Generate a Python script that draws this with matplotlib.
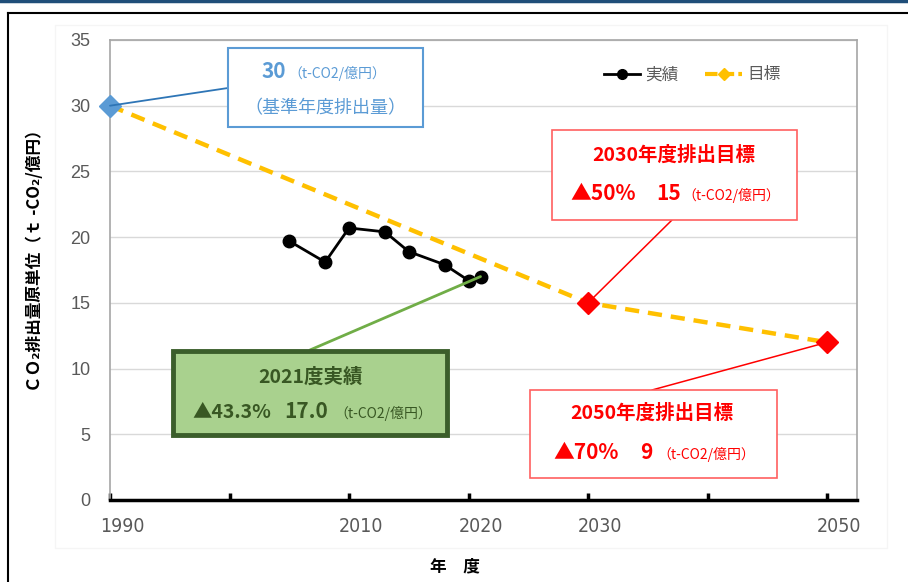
import matplotlib
matplotlib.use("Agg")
import matplotlib.pyplot as plt
from matplotlib.lines import Line2D
from matplotlib.patches import Rectangle
from matplotlib.transforms import ScaledTranslation

plt.rcParams['font.family'] = ['Noto Sans CJK JP', 'DejaVu Sans']

# ---- data ----
actual_years = [2005, 2008, 2010, 2013, 2015, 2018, 2020, 2021]
actual_values = [19.7, 18.1, 20.7, 20.4, 18.9, 17.9, 16.7, 17.0]
target_years = [1990, 2030, 2050]
target_values = [30, 15, 12]
x_ticks = [1990, 2000, 2010, 2020, 2030, 2040, 2050]
x_tick_labels = ['1990', '', '2010', '2020', '2030', '', '2050']
y_ticks = [0, 5, 10, 15, 20, 25, 30, 35]
legend_labels = ['実績', '目標']

W, H = 908, 582
DPI = 100
fig = plt.figure(figsize=(W / DPI, H / DPI), dpi=DPI, facecolor='white')


def fx(px):
    return px / W


def fy(py):
    return 1 - py / H


# outer frame decorations
fig.add_artist(Line2D([0, 1], [fy(1), fy(1)], color='#1F4E79', lw=2.5, transform=fig.transFigure))
fig.add_artist(Line2D([fx(8), 1], [fy(13), fy(13)], color='black', lw=1.5, transform=fig.transFigure))
fig.add_artist(Line2D([fx(8), fx(8)], [fy(13), 0], color='black', lw=1.5, transform=fig.transFigure))
fig.add_artist(Rectangle((fx(55), fy(548)), fx(887) - fx(55), fy(25) - fy(548), fill=False,
                         edgecolor='#F5F5F5', lw=1, transform=fig.transFigure))

ax = fig.add_axes([fx(110), fy(500), fx(857) - fx(110), fy(40) - fy(500)])
ax.set_xlim(1990, 2052.5)
ax.set_ylim(0, 35)

# grid
ax.set_yticks(y_ticks)
ax.yaxis.grid(True, color='#D9D9D9', lw=1)
ax.set_axisbelow(True)
for s in ['left', 'top', 'right']:
    ax.spines[s].set_color('#A6A6A6')
    ax.spines[s].set_linewidth(1.2)
ax.spines['bottom'].set_color('black')
ax.spines['bottom'].set_linewidth(2.5)

ax.tick_params(axis='y', length=0, pad=14, labelsize=13, labelcolor='#595959',
               labelfontfamily='Liberation Sans')
ax.set_xticks(x_ticks)
ax.set_xticklabels(x_tick_labels)
ax.tick_params(axis='x', direction='in', length=5, width=2.5, color='black', pad=12,
               labelsize=14, labelcolor='#595959')
for lab in ax.get_xticklabels():
    lab.set_fontfamily(['DejaVu Sans'])
    lab.set_fontstretch('condensed')
    lab.set_transform(lab.get_transform() + ScaledTranslation(12 / DPI, 0, fig.dpi_scale_trans))

# target line
ax.plot(target_years, target_values, color='#FFC000', lw=3.2, ls=(0, (3.2, 2)), zorder=3,
        solid_capstyle='butt', dash_capstyle='butt')
# actual line
ax.plot(actual_years, actual_values, color='black', lw=2, marker='o', ms=9, zorder=4)
# highlighted target points
ax.plot(target_years[0], target_values[0], marker='D', ms=11, color='#5B9BD5', zorder=5, clip_on=False)
ax.plot(target_years[1:], target_values[1:], marker='D', ms=11, color='#FF0000', ls='none', zorder=5,
        clip_on=False)

# legend
handles = [Line2D([], [], color='black', lw=2, marker='o', ms=7),
           Line2D([], [], color='#FFC000', lw=3, ls=(0, (3, 1)), marker='D', ms=6)]
fig.legend(handles, legend_labels, loc='center', bbox_to_anchor=(fx(692), fy(75)), ncol=2,
           frameon=False, fontsize=12, labelcolor='#595959', handlelength=2.2,
           columnspacing=1.6, handletextpad=0.3)


def conn(xd, yd, px, py, color, lw):
    ax.annotate('', xy=(xd, yd), xycoords='data', xytext=(fx(px), fy(py)),
                textcoords='figure fraction',
                arrowprops=dict(arrowstyle='-', color=color, lw=lw, shrinkA=0, shrinkB=0),
                zorder=6, annotation_clip=False)


def box(x0, y0, x1, y1, ec, fc='white', lw=1.2):
    fig.add_artist(Rectangle((fx(x0), fy(y1)), fx(x1) - fx(x0), fy(y0) - fy(y1),
                             facecolor=fc, edgecolor=ec, lw=lw, transform=fig.transFigure, zorder=7))


def t(px, py, s, size, color, ha='left', weight='normal'):
    fig.text(fx(px), fy(py), s, fontsize=size, color=color, ha=ha, va='baseline',
             weight=weight, zorder=8)


SMALL = 10

# blue annotation (1990)
BLUE = '#5B9BD5'
conn(target_years[0], target_values[0], 228, 88, '#2E75B6', 1.3)
box(228, 48, 423, 127, BLUE, lw=1.5)
t(286, 78, '30', 15, BLUE, ha='right', weight='bold')
t(288, 78, '（t-CO2/億円）', SMALL, BLUE)
t(325, 113, '（基準年度排出量）', 13, BLUE, ha='center')

# 2030 annotation
RED = '#FF0000'
conn(target_years[1], target_values[1], 672, 220, RED, 1.1)
box(552, 130, 797, 220, '#FF6060', lw=1.2)
t(674, 161, '2030年度排出目標', 14, RED, ha='center', weight='bold')
t(636, 200, '▲50%', 15, RED, ha='right', weight='bold')
t(656, 200, '15', 15, RED, weight='bold')
t(682, 200, '（t-CO2/億円）', SMALL, RED)

# 2021 actual annotation
GREEN_T = '#385723'
conn(actual_years[-1], actual_values[-1], 310, 350, '#70AD47', 2)
box(173, 351, 447, 435, '#3B5E2B', fc='#A9D18E', lw=3.5)
t(311, 383, '2021度実績', 14, GREEN_T, ha='center', weight='bold')
t(271, 418, '▲43.3%', 14, GREEN_T, ha='right', weight='bold')
t(284, 418, '17.0', 15, GREEN_T, weight='bold')
t(334, 418, '（t-CO2/億円）', SMALL, GREEN_T)

# 2050 annotation
conn(target_years[2], target_values[2], 652, 390, RED, 1.1)
box(530, 390, 777, 478, '#FF6060', lw=1.2)
t(652, 419, '2050年度排出目標', 14, RED, ha='center', weight='bold')
t(619, 459, '▲70%', 15, RED, ha='right', weight='bold')
t(640, 459, '9', 15, RED, weight='bold')
t(657, 459, '（t-CO2/億円）', SMALL, RED)

# axis titles
fig.text(fx(35), fy(257), 'ＣＯ₂排出量原単位（ｔ -CO₂/億円）', rotation=90, ha='center', va='center',
         fontsize=12, weight='bold', color='black')
fig.text(fx(455), fy(566), '年　度', ha='center', va='center', fontsize=12, weight='bold', color='black')

fig.savefig('out.png', dpi=DPI, facecolor='white')
